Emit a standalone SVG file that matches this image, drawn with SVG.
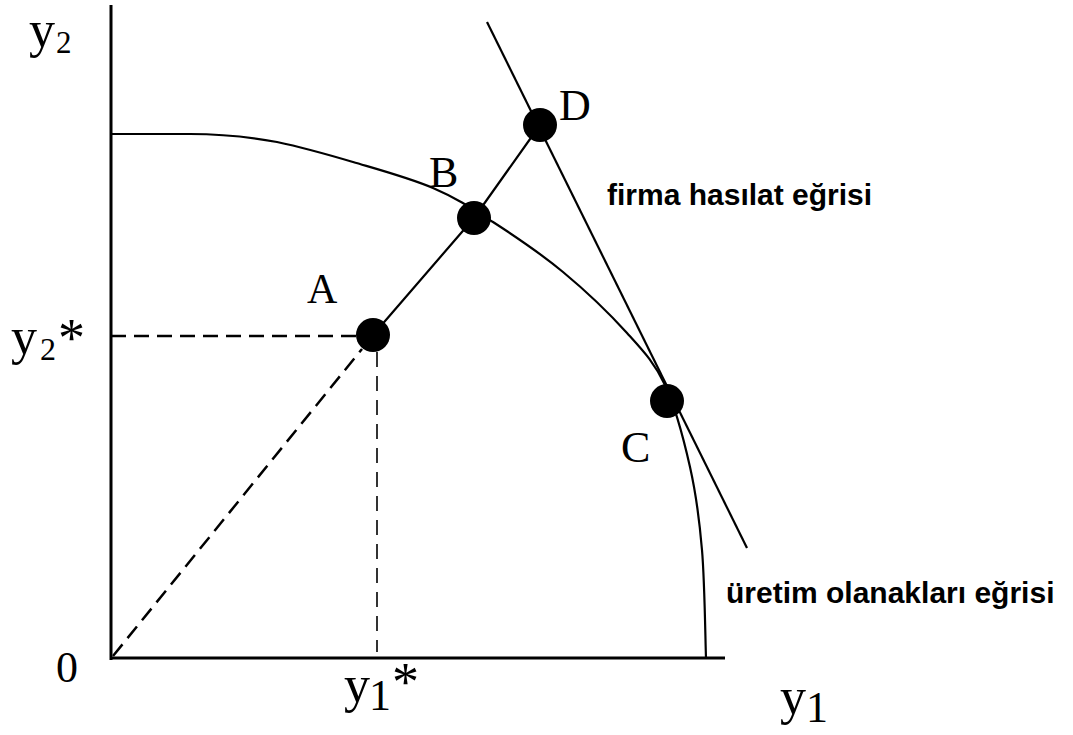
<svg xmlns="http://www.w3.org/2000/svg" width="1073" height="735" viewBox="0 0 1073 735">
<style>
.ax{stroke:#000;stroke-width:3;fill:none}
.ln{stroke:#000;stroke-width:2.2;fill:none}
.dash{stroke:#000;stroke-width:2.5;fill:none;stroke-dasharray:15 8}
.dashthin{stroke:#000;stroke-width:1.6;fill:none;stroke-dasharray:15 9}
.dot{fill:#000}
.serif{font-family:"Liberation Serif","Times New Roman",serif;fill:#000}
.lbl{font-family:"Liberation Sans",Arial,sans-serif;font-weight:bold;font-size:30px;fill:#000}
</style>
<rect width="1073" height="735" fill="#fff"/>
<g id="axes">
<line class="ax" x1="111" y1="5" x2="111" y2="660"/>
<line class="ax" x1="110" y1="658" x2="725" y2="658"/>
</g>
<g id="connectors">
<path id="ppf" class="ln" stroke-width="2.7" d="M111,134 L190,134 C225,134 250,137 277,142 C299.2,146.7 327,154.3 353,162 C379,169.7 409.7,178 433,188 C456.3,198 471.3,208 493,222 C514.7,236 540.7,253.5 563,272 C585.3,290.5 610,314.2 627,333 C644,351.8 654.5,362.7 665,385 C675.5,407.3 683.8,439.5 690,467 C696.2,494.5 699.3,518.3 702,550 C704.7,581.7 705.3,639 706,658"/>
<line id="revenue" class="ln" x1="487" y1="22" x2="747" y2="548"/>
<polyline id="ray" class="ln" points="373,335 474,218 540,125"/>
<line id="ray-dash" class="dash" x1="113" y1="656" x2="362" y2="349"/>
<line id="y2star-dash" class="dash" x1="111" y1="336" x2="358" y2="336"/>
<line id="y1star-dash" class="dashthin" x1="377" y1="352" x2="377" y2="652"/>
</g>
<g id="node-A"><circle class="dot" cx="373" cy="335" r="17"/><text class="serif" x="307" y="303" font-size="42">A</text></g>
<g id="node-B"><circle class="dot" cx="474" cy="218" r="17"/><text class="serif" x="429" y="187" font-size="44">B</text></g>
<g id="node-D"><circle class="dot" cx="540" cy="125" r="17"/><text class="serif" x="559" y="120" font-size="44">D</text></g>
<g id="node-C"><circle class="dot" cx="667" cy="401" r="17"/><text class="serif" x="621" y="462" font-size="44">C</text></g>
<g id="axis-labels">
<text class="serif" x="29" y="47" font-size="52">y</text><text class="serif" x="56" y="53" font-size="31">2</text>
<text class="serif" x="11" y="354" font-size="52">y</text><text class="serif" x="40" y="360" font-size="32">2</text><text class="serif" x="58" y="356" font-size="54">*</text>
<text class="serif" x="56" y="682" font-size="44">0</text>
<text class="serif" x="344" y="702" font-size="52">y</text><text class="serif" x="369" y="710" font-size="44">1</text><text class="serif" x="392" y="700" font-size="54">*</text>
<text class="serif" x="780" y="714" font-size="52">y</text><text class="serif" x="806" y="722" font-size="44">1</text>
</g>
<g id="curve-labels">
<text class="lbl" x="607" y="205">firma hasılat eğrisi</text>
<text class="lbl" x="726" y="603">üretim olanakları eğrisi</text>
</g>
</svg>
